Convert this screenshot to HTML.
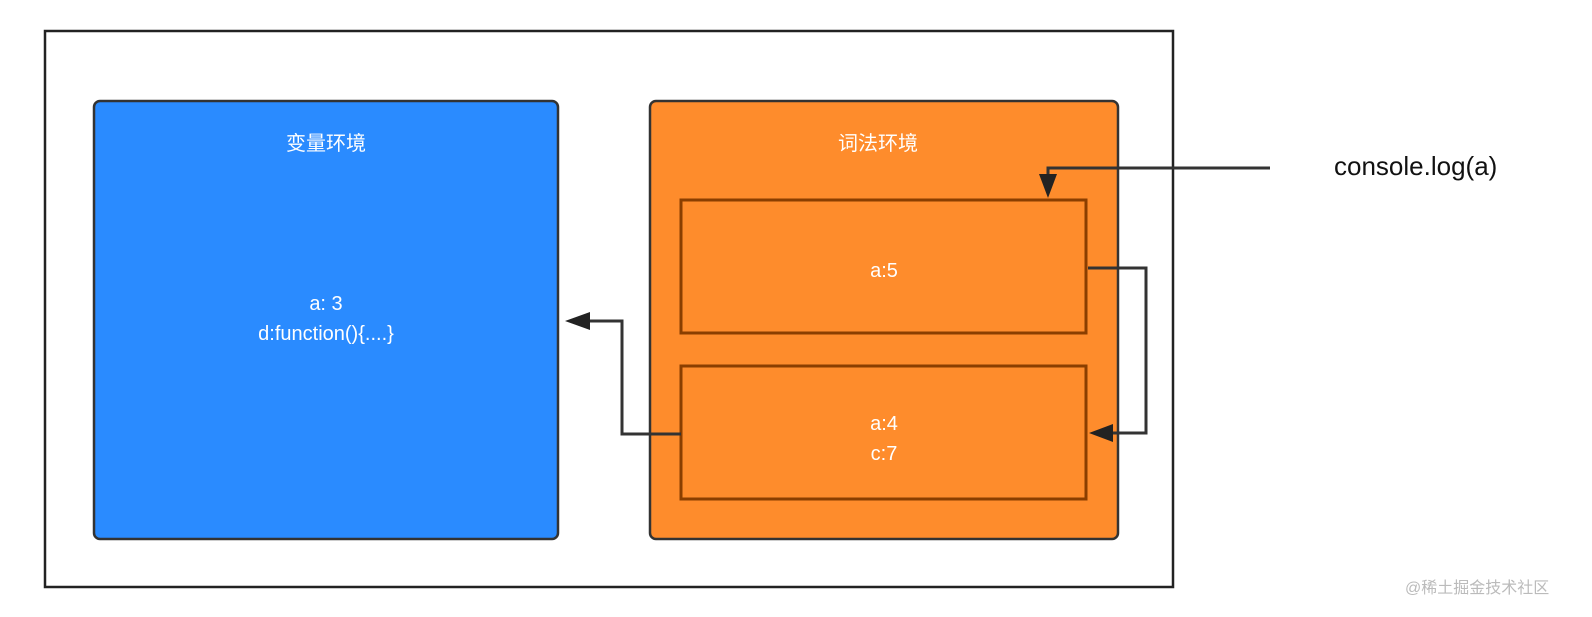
<!DOCTYPE html>
<html><head><meta charset="utf-8"><style>
body{margin:0;background:#fff;}
svg text{font-family:"Liberation Sans","Noto Sans CJK SC",sans-serif;}
</style></head><body>
<svg width="1592" height="612" xmlns="http://www.w3.org/2000/svg">
<rect x="0" y="0" width="1592" height="612" fill="#fff"/>
<rect x="45" y="31" width="1128" height="556" fill="#fff" stroke="#222" stroke-width="2.5"/>
<rect x="94" y="101" width="464" height="438" rx="6" fill="#2a8bff" stroke="#333" stroke-width="2.5"/>
<text x="326" y="150" font-size="20" fill="#fff" text-anchor="middle">变量环境</text>
<text x="326" y="310" font-size="20" fill="#fff" text-anchor="middle">a: 3</text>
<text x="326" y="340" font-size="20" fill="#fff" text-anchor="middle">d:function(){....}</text>
<rect x="650" y="101" width="468" height="438" rx="6" fill="#fe8c2c" stroke="#333" stroke-width="2.5"/>
<text x="878" y="150" font-size="20" fill="#fff" text-anchor="middle">词法环境</text>
<rect x="681" y="200" width="405" height="133" fill="#fe8c2c" stroke="#8a3e00" stroke-width="3"/>
<text x="884" y="277" font-size="20" fill="#fff" text-anchor="middle">a:5</text>
<rect x="681" y="366" width="405" height="133" fill="#fe8c2c" stroke="#8a3e00" stroke-width="3"/>
<text x="884" y="430" font-size="20" fill="#fff" text-anchor="middle">a:4</text>
<text x="884" y="460" font-size="20" fill="#fff" text-anchor="middle">c:7</text>
<g stroke="#333" stroke-width="3" fill="none">
<polyline points="1270,168 1048,168 1048,182"/>
<polyline points="1088,268 1146,268 1146,433 1112,433"/>
<polyline points="681,434 622,434 622,321 590,321"/>
</g>
<g fill="#222">
<polygon points="1039,174 1057,174 1048,198"/>
<polygon points="1113,424 1113,442 1089,433"/>
<polygon points="590,312 590,330 565,321"/>
</g>
<text x="1334" y="175" font-size="26" fill="#111">console.log(a)</text>
<text x="1405" y="593" font-size="16" fill="#bbb">@稀土掘金技术社区</text>
</svg>
</body></html>
